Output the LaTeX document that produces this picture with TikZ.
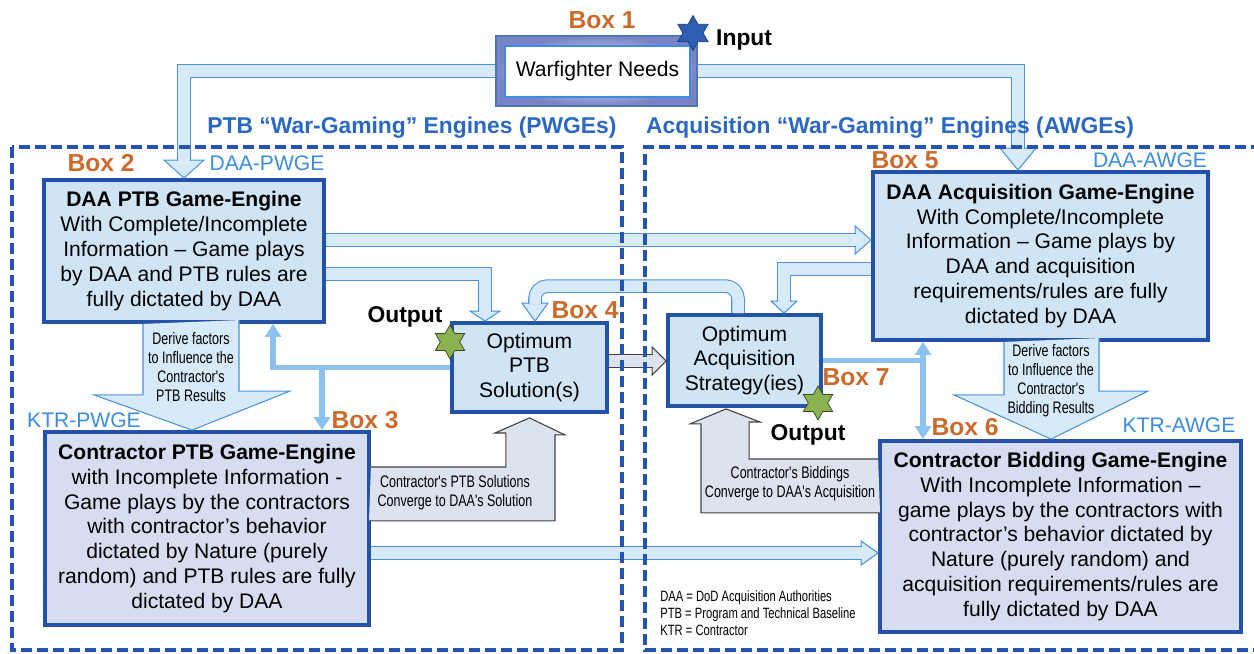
\documentclass[tikz,border=0pt]{standalone}
\usepackage{fontspec}
\setmainfont{Liberation Sans}
\newfontfamily\narrowfont[FakeStretch=0.75]{Liberation Sans}
\usetikzlibrary{positioning,calc,shapes.geometric,arrows.meta}
\definecolor{engedge}{HTML}{2352A8}
\definecolor{engfill}{HTML}{CFE4F5}
\definecolor{ktrfill}{HTML}{D6DDF0}
\definecolor{pipeedge}{HTML}{4A92DC}
\definecolor{pipefill}{HTML}{D7EAF9}
\definecolor{linkblue}{HTML}{8CC3EE}
\definecolor{boxorange}{HTML}{CC6A2C}
\definecolor{tagblue}{HTML}{3C8CE0}
\definecolor{titleblue}{HTML}{2A68C4}
\definecolor{frameblue}{HTML}{2453B0}
\definecolor{notefill}{HTML}{DDE2EF}
\definecolor{needsblue}{HTML}{7884C6}
\definecolor{inputblue}{HTML}{2F5FB3}
\definecolor{outgreen}{HTML}{8CB151}
\tikzset{%
  engine/.style={
    rectangle,
    draw=engedge,
    line width=2.2pt,
    fill=engfill,
    align=center,
    inner sep=1pt,
    font=\fontsize{12}{14.2}\selectfont
  },
  ktr engine/.style={engine, fill=ktrfill},
  needs frame/.style={rectangle, draw=engedge!80, line width=0.8pt,
    inner color=white, outer color=needsblue,
    minimum width=4.02cm, minimum height=1.4cm},
  needs box/.style={rectangle, draw=tagblue, line width=0.8pt, fill=white,
    minimum width=3.7cm, minimum height=1.02cm,
    font=\fontsize{12}{14.2}\selectfont},
  box tag/.style={text=boxorange, font=\fontsize{14}{16}\selectfont\bfseries},
  side tag/.style={text=tagblue, font=\fontsize{12}{14}\selectfont},
  group title/.style={text=titleblue, font=\fontsize{13}{15}\selectfont\bfseries},
  io tag/.style={font=\fontsize{13}{15}\selectfont\bfseries},
  small note/.style={align=center, inner sep=0pt,
    font=\narrowfont\fontsize{9.5}{10.8}\selectfont},
  legend/.style={align=left, inner sep=0pt,
    font=\narrowfont\fontsize{8.5}{9.6}\selectfont},
  group frame/.style={draw=frameblue, line width=2.3pt,
    dash pattern=on 0.22cm off 0.1cm},
  pipe/.style={draw=pipeedge, line width=0.6pt, double=pipefill,
    double distance=0.23cm},
  pipe head/.style={draw=pipeedge, line width=0.6pt, fill=pipefill},
  fat arrow/.style={draw=pipeedge, line width=0.6pt, fill=pipefill},
  hand over/.style={draw=black!75, line width=0.6pt, double=notefill,
    double distance=0.23cm},
  hand head/.style={draw=black!75, line width=0.6pt, fill=notefill},
  result arrow/.style={draw=black!75, line width=0.6pt, fill=notefill},
  link/.style={draw=linkblue, line width=3pt},
  link tip/.tip={Triangle[length=0.26cm, width=0.32cm]},
  input star/.style={star, star points=6, star point ratio=1.75,
    minimum size=0.7cm, inner sep=0pt, fill=inputblue, draw=engedge!70!black},
  output star/.style={star, star points=6, star point ratio=1.75,
    minimum size=0.68cm, inner sep=0pt, fill=outgreen, draw=outgreen!40!black},
  pics/whead/.style n args={3}{code={
    \draw[#3] (0,0) -- (-#1,#2) -- (-#1,-#2) -- cycle;
  }},
}

\begin{document}
\begin{tikzpicture}[x=0.02cm, y=-0.02cm]
  \useasboundingbox (0,0) rectangle (1254,653);

  % engines and solutions
  \node[needs frame] (warfighter) at (596.5,71) {};
  \node[needs box] (needs) at (597.5,71.5) {Warfighter Needs};
  \node[engine, minimum width=5.6cm, minimum height=2.84cm] (daa-ptb) at (184,251)
    {\textbf{DAA PTB Game-Engine}\\With Complete/Incomplete\\Information -- Game plays\\by DAA and PTB rules are\\fully dictated by DAA};
  \node[ktr engine, minimum width=6.48cm, minimum height=3.86cm] (ktr-ptb) at (207,528.5)
    {\textbf{Contractor PTB Game-Engine}\\with Incomplete Information -\\Game plays by the contractors\\with contractor's behavior\\dictated by Nature (purely\\random) and PTB rules are fully\\dictated by DAA};
  \node[engine, minimum width=3.1cm, minimum height=1.78cm] (opt-ptb) at (529.5,367.5)
    {Optimum\\PTB\\Solution(s)};
  \node[engine, minimum width=3.06cm, minimum height=1.82cm] (opt-acq) at (744.5,360.5)
    {Optimum\\Acquisition\\Strategy(ies)};
  \node[engine, minimum width=6.7cm, minimum height=3.36cm] (daa-acq) at (1040.5,256)
    {\textbf{DAA Acquisition Game-Engine}\\With Complete/Incomplete\\Information -- Game plays by\\DAA and acquisition\\requirements/rules are fully\\dictated by DAA};
  \node[ktr engine, minimum width=7.22cm, minimum height=3.82cm] (ktr-acq) at (1060.5,536.5)
    {\textbf{Contractor Bidding Game-Engine}\\With Incomplete Information --\\game plays by the contractors with\\contractor's behavior dictated by\\Nature (purely random) and\\acquisition requirements/rules are\\fully dictated by DAA};

  % wide pipes
  \pic[rotate=-90] at (daa-ptb.north) {whead={18}{20}{pipe head}};
  \draw[pipe] (warfighter.west) -| ($(daa-ptb.north)+(0,-17)$);
  \pic[rotate=-90] at ($(daa-acq.north)+(-22.5,0)$) {whead={22}{18}{pipe head}};
  \draw[pipe] (warfighter.east) -| ($(daa-acq.north)+(-22.5,-21)$);

  \coordinate (to-acq) at ($(daa-ptb.east)+(0,-11)$);
  \pic at (daa-acq.west |- to-acq) {whead={16}{14}{pipe head}};
  \draw[pipe] (to-acq) -- ($(daa-acq.west |- to-acq)+(-15,0)$);

  \pic[rotate=-90] at ($(opt-ptb.north)+(-44.5,0)$) {whead={10}{15}{pipe head}};
  \draw[pipe] ($(daa-ptb.east)+(0,23)$) -| ($(opt-ptb.north)+(-44.5,-9)$);

  \pic[rotate=-90] at ($(opt-ptb.north)+(5.5,0)$) {whead={18}{13}{pipe head}};
  \draw[pipe, rounded corners=0.25cm] ($(opt-acq.north)+(-6.5,0)$) -- ++(0,-27)
    -| ($(opt-ptb.north)+(5.5,-17)$);

  \pic[rotate=-90] at ($(opt-acq.north)+(39.5,0)$) {whead={12}{13}{pipe head}};
  \draw[pipe] ($(daa-acq.west)+(0,13)$) -| ($(opt-acq.north)+(39.5,-11)$);

  \coordinate (to-bid) at ($(ktr-ptb.east)+(0,24.5)$);
  \pic at (ktr-acq.west |- to-bid) {whead={17}{12}{pipe head}};
  \draw[pipe] (to-bid) -- ($(ktr-acq.west |- to-bid)+(-16,0)$);

  \coordinate (to-str) at ($(opt-ptb.east)+(0,-6.5)$);
  \pic at (opt-acq.west |- to-str) {whead={14}{14}{hand head}};
  \draw[hand over] (to-str) -- ($(opt-acq.west |- to-str)+(-13,0)$);

  % derive factors
  \draw[fat arrow] ($(daa-ptb.south)+(-41,0)$) -- ++(0,71) -- ++(-49,0)
    -- ($(ktr-ptb.north)+(-15,0)$) -- ++(98,-39) -- ++(-51,0) -- ++(0,-71);
  \node[small note] (derive-ptb) at (191,367) {Derive factors\\to Influence the\\Contractor's\\PTB Results};
  \draw[fat arrow] ($(daa-acq.south)+(-36.5,0)$) -- ++(0,53) -- ++(-50,0)
    -- ($(ktr-acq.north)+(-9.5,0)$) -- ++(97,-48) -- ++(-49,0) -- ++(0,-53);
  \node[small note] (derive-acq) at (1051,381) {Derive factors\\to Influence the\\Contractor's\\Bidding Results};

  % converging results
  \draw[result arrow] ($(ktr-ptb.east)+(0,-61.5)$) -- ++(135,0) -- ++(0,-34) -- ++(-11,0)
    -- ($(opt-ptb.south)+(0,4)$) -- ++(35.5,17) -- ++(-10,0) -- ++(0,86) -- ++(-186,0);
  \node[small note] (conv-ptb) at (455,493) {Contractor's PTB Solutions\\Converge to DAA's Solution};
  \draw[result arrow] ($(ktr-acq.west)+(0,-77.5)$) -- ++(-129,0) -- ++(0,-37) -- ++(11,0)
    -- ($(opt-acq.south)+(-18.5,1)$) -- ++(-36,15) -- ++(11,0) -- ++(0,89) -- ++(179,0);
  \node[small note] (conv-acq) at (790,484) {Contractor's Biddings\\Converge to DAA's Acquisition};

  % feedback links
  \coordinate (fork-ptb) at ($(daa-ptb.south)+(89,0)$);
  \coordinate (drop-ktr) at ($(ktr-ptb.north)+(115,0)$);
  \draw[link, -link tip] (opt-ptb.west) -| (fork-ptb);
  \draw[link, -link tip] (drop-ktr |- opt-ptb.west) -- (drop-ktr);
  \coordinate (fork-acq) at ($(daa-acq.south)+(-117.5,0)$);
  \draw[link] (opt-acq.east) -- (opt-acq.east -| fork-acq);
  \draw[link, link tip-link tip] (fork-acq) -- (fork-acq |- ktr-acq.north);

  % groups
  \draw[group frame] (12,147) rectangle (622,650);
  \draw[group frame] (1262,147) -| (645,650) -- (1262,650);
  \node[group title] (ptb-title) at (412,128) {PTB ``War-Gaming'' Engines (PWGEs)};
  \node[group title] (acq-title) at (890,128) {Acquisition ``War-Gaming'' Engines (AWGEs)};

  \foreach \n/\x/\y in {1/602/20, 2/101/163, 3/365/420, 4/585/310, 5/905/160, 6/965/427, 7/856/377}
    \node[box tag] (tag-\n) at (\x,\y) {Box \n};
  \foreach \t/\x/\y in {DAA-PWGE/267/163, KTR-PWGE/84/420, DAA-AWGE/1150/160, KTR-AWGE/1179/425}
    \node[side tag] (\t) at (\x,\y) {\t};

  \node[input star] (input-star) at (693,33) {};
  \node[io tag, anchor=west] (input-tag) at (710,40) {Input};
  \node[output star] (ptb-star) at (450,342) {};
  \node[io tag] (ptb-out) at (405,317) {Output};
  \node[output star] (acq-star) at (818,403) {};
  \node[io tag] (acq-out) at (808,435) {Output};

  \node[legend, anchor=west] (legend) at (660,613)
    {DAA = DoD Acquisition Authorities\\PTB = Program and Technical Baseline\\KTR = Contractor};
\end{tikzpicture}
\end{document}
